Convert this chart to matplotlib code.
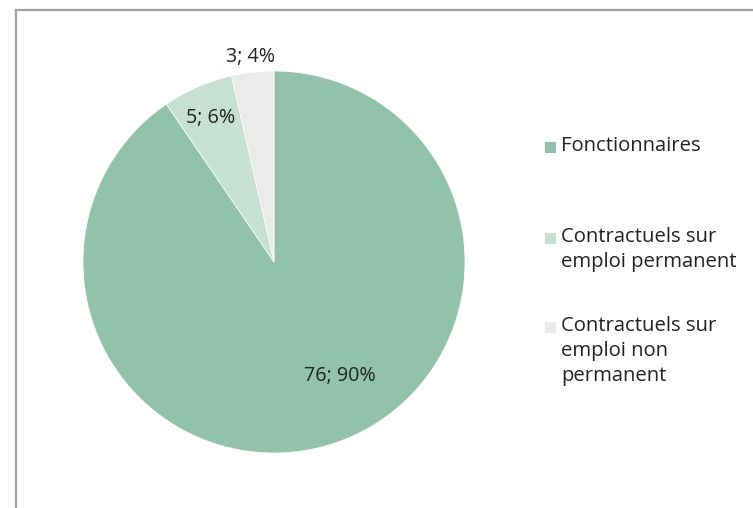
import numpy as np
import matplotlib.pyplot as plt
from matplotlib.patches import Rectangle
from matplotlib.lines import Line2D

categories = ["Fonctionnaires", "Contractuels sur\nemploi permanent", "Contractuels sur\nemploi non\npermanent"]
values = [76, 5, 3]
colors = ["#92C2AB", "#C6E0D4", "#EBEBEB"]

plt.rcParams['font.family'] = ['Open Sans', 'DejaVu Sans']

W, H = 753, 508
fig = plt.figure(figsize=(W / 100, H / 100), dpi=100)

# pie axes: centre (274, 262) px, radius 191 px
cx, cy, r = 274, 262, 191
ax = fig.add_axes([(cx - r) / W, (H - cy - r) / H, 2 * r / W, 2 * r / H])
wedges, _ = ax.pie(values, colors=colors, startangle=90, counterclock=False,
                   radius=1.0, wedgeprops=dict(linewidth=0.5, edgecolor="white"))
ax.set_xlim(-1, 1)
ax.set_ylim(-1, 1)
ax.set_aspect("equal")
ax.axis("off")

total = sum(values)
label_pos = [(-60, 0.69), (None, 0.825), (None, 1.08)]
for w, v, (ang, dist) in zip(wedges, values, label_pos):
    if ang is None:
        ang = (w.theta1 + w.theta2) / 2
    pct = round(100 * v / total)
    x = dist * np.cos(np.radians(ang))
    y = dist * np.sin(np.radians(ang))
    ax.text(x, y, f"{v}; {pct}%", ha="center", va="center", fontsize=14.2,
            color="#222222", clip_on=False)

# legend
leg_rows = [147, 238, 327]
for lab, col, yy in zip(categories, colors, leg_rows):
    fig.patches.append(Rectangle(((545) / W, (H - yy - 5.5) / H), 11 / W, 11 / H,
                                 transform=fig.transFigure, facecolor=col,
                                 edgecolor="none"))
    fig.text(561 / W, (H - yy + 11) / H, lab, ha="left", va="top", fontsize=14.6,
             color="#222222", linespacing=1.33)

# outer frame (left and top edges)
fig.lines.append(Line2D([15.5 / W, 15.5 / W], [0, (H - 10) / H], transform=fig.transFigure,
                        color="#A0A0A0", linewidth=1.6))
fig.lines.append(Line2D([15.5 / W, 1], [(H - 10) / H, (H - 10) / H], transform=fig.transFigure,
                        color="#A0A0A0", linewidth=1.6))

fig.savefig("out.png", dpi=100, facecolor="white")
